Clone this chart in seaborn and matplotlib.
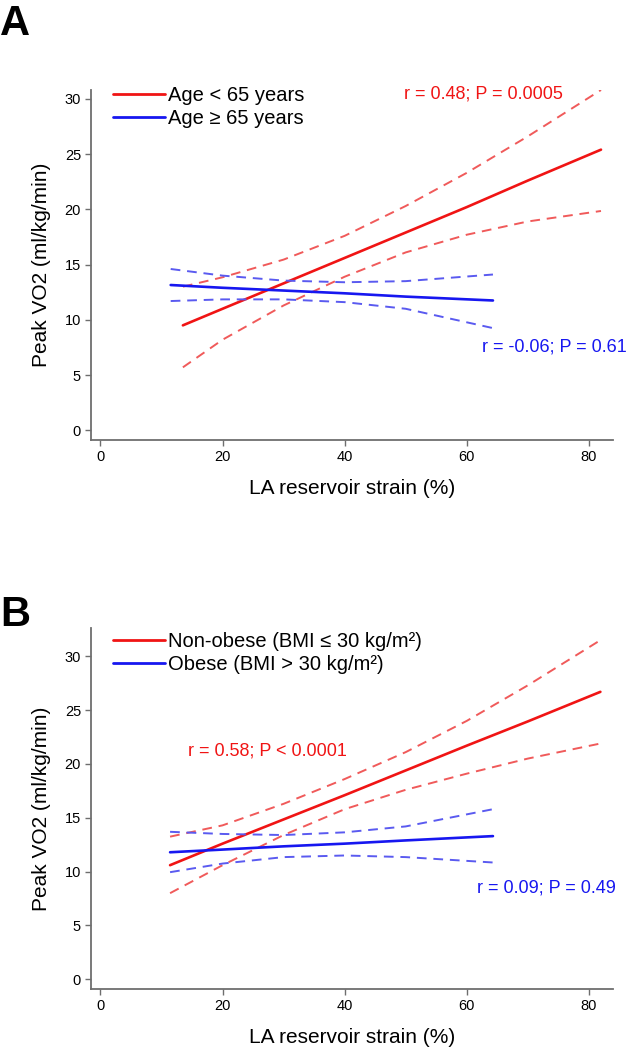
import matplotlib
matplotlib.use("Agg")
import matplotlib.pyplot as plt
import seaborn as sns
import pandas as pd
from matplotlib.lines import Line2D

# ---- data ----
# Panel A: age groups
xa_young = [13.5, 20, 30, 40, 50, 60, 70, 82]
fit_a_young = [9.5, 11.0, 13.3, 15.6, 17.9, 20.2, 22.6, 25.4]
hi_a_young = [13.0, 13.85, 15.45, 17.6, 20.3, 23.3, 26.6, 30.8]
lo_a_young = [5.7, 8.2, 11.3, 13.9, 16.1, 17.7, 18.9, 19.85]

xa_old = [11.5, 20, 30, 40, 50, 64.3]
fit_a_old = [13.15, 12.9, 12.65, 12.4, 12.1, 11.75]
hi_a_old = [14.6, 14.0, 13.55, 13.4, 13.5, 14.1]
lo_a_old = [11.7, 11.85, 11.85, 11.6, 11.0, 9.25]

# Panel B: BMI groups
xb_nonob = [11.4, 20, 30, 40, 50, 60, 70, 81.9]
fit_b_nonob = [10.6, 12.6, 14.85, 17.1, 19.4, 21.7, 23.95, 26.7]
hi_b_nonob = [13.25, 14.3, 16.3, 18.6, 21.1, 24.0, 27.3, 31.5]
lo_b_nonob = [8.0, 10.6, 13.4, 15.8, 17.6, 19.1, 20.5, 21.9]

xb_ob = [11.4, 20, 30, 40, 50, 64.3]
fit_b_ob = [11.8, 12.05, 12.35, 12.6, 12.9, 13.3]
hi_b_ob = [13.7, 13.5, 13.4, 13.65, 14.2, 15.8]
lo_b_ob = [9.95, 10.75, 11.35, 11.5, 11.35, 10.85]

legend_a = ["Age < 65 years", "Age \u2265 65 years"]
legend_b = ["Non-obese (BMI \u2264 30 kg/m\u00b2)", "Obese (BMI > 30 kg/m\u00b2)"]
stats_a = ["r = 0.48; P = 0.0005", "r = -0.06; P = 0.61"]
stats_b = ["r = 0.58; P < 0.0001", "r = 0.09; P = 0.49"]
xticks = [0, 20, 40, 60, 80]
yticks = [0, 5, 10, 15, 20, 25, 30]

RED = "#f01414"
BLUE = "#1717f0"
RED_D = "#f05a5a"
BLUE_D = "#5a5af0"
GREY = "#6e6e6e"

sns.set_style("white")
plt.rcParams["font.family"] = ["Liberation Sans", "DejaVu Sans"]
plt.rcParams["text.color"] = "black"
plt.rcParams["axes.labelcolor"] = "black"

fig = plt.figure(figsize=(6.27, 10.5), dpi=100)
ax_a = fig.add_axes([0.1447, 0.5807, 0.8333, 0.3336])
ax_b = fig.add_axes([0.1447, 0.0581, 0.8333, 0.3435])


def draw_group(ax, x, fit, hi, lo, col, col_d):
    df = pd.DataFrame({"x": x, "fit": fit, "hi": hi, "lo": lo})
    sns.lineplot(data=df, x="x", y="fit", ax=ax, color=col, lw=1.9)
    sns.lineplot(data=df, x="x", y="hi", ax=ax, color=col_d, lw=1.4,
                 linestyle=(0, (5, 3.5)))
    sns.lineplot(data=df, x="x", y="lo", ax=ax, color=col_d, lw=1.4,
                 linestyle=(0, (5, 3.5)))


def style_axes(ax, ylim):
    ax.set_xlim(-1.6, 84)
    ax.set_ylim(*ylim)
    ax.set_xticks(xticks)
    ax.set_yticks(yticks)
    for s in ["top", "right"]:
        ax.spines[s].set_visible(False)
    for s in ["left", "bottom"]:
        ax.spines[s].set_color(GREY)
        ax.spines[s].set_linewidth(1.3)
    ax.tick_params(axis="both", direction="out", length=4, width=1.0, color=GREY,
                   labelsize=10.5, labelcolor="black", pad=3, bottom=True, left=True)
    ax.set_xlabel("LA reservoir strain (%)", fontsize=15, labelpad=11)
    ax.set_ylabel("Peak VO2 (ml/kg/min)", fontsize=15, labelpad=10)


# panel A
draw_group(ax_a, xa_young, fit_a_young, hi_a_young, lo_a_young, RED, RED_D)
draw_group(ax_a, xa_old, fit_a_old, hi_a_old, lo_a_old, BLUE, BLUE_D)
style_axes(ax_a, (-0.9, 30.8))
ax_a.text(75.8, 30.4, stats_a[0], color=RED, fontsize=13, ha="right", va="center")
ax_a.text(86.2, 7.56, stats_a[1], color=BLUE, fontsize=13, ha="right", va="center",
          clip_on=False)

# panel B
draw_group(ax_b, xb_nonob, fit_b_nonob, hi_b_nonob, lo_b_nonob, RED, RED_D)
draw_group(ax_b, xb_ob, fit_b_ob, hi_b_ob, lo_b_ob, BLUE, BLUE_D)
style_axes(ax_b, (-0.9, 32.6))
ax_b.text(14.3, 21.2, stats_b[0], color=RED, fontsize=13, ha="left", va="center")
ax_b.text(84.5, 8.5, stats_b[1], color=BLUE, fontsize=13, ha="right", va="center",
          clip_on=False)

for ax, labels, ytop in [(ax_a, legend_a, 1.011), (ax_b, legend_b, 0.9895)]:
    handles = [Line2D([], [], color=RED, lw=2), Line2D([], [], color=BLUE, lw=2)]
    ax.legend(handles, labels, loc="upper left", bbox_to_anchor=(0.042, ytop),
              frameon=False, fontsize=14.5, handlelength=2.6, handletextpad=0.15,
              borderpad=0, borderaxespad=0, labelspacing=0.2)

fig.text(0.0, 1 - 35 / 1050, "A", fontsize=30, fontweight="bold", ha="left", va="baseline")
fig.text(0.0, 1 - 626 / 1050, "B", fontsize=30, fontweight="bold", ha="left", va="baseline")

fig.savefig("out.png", dpi=100)
